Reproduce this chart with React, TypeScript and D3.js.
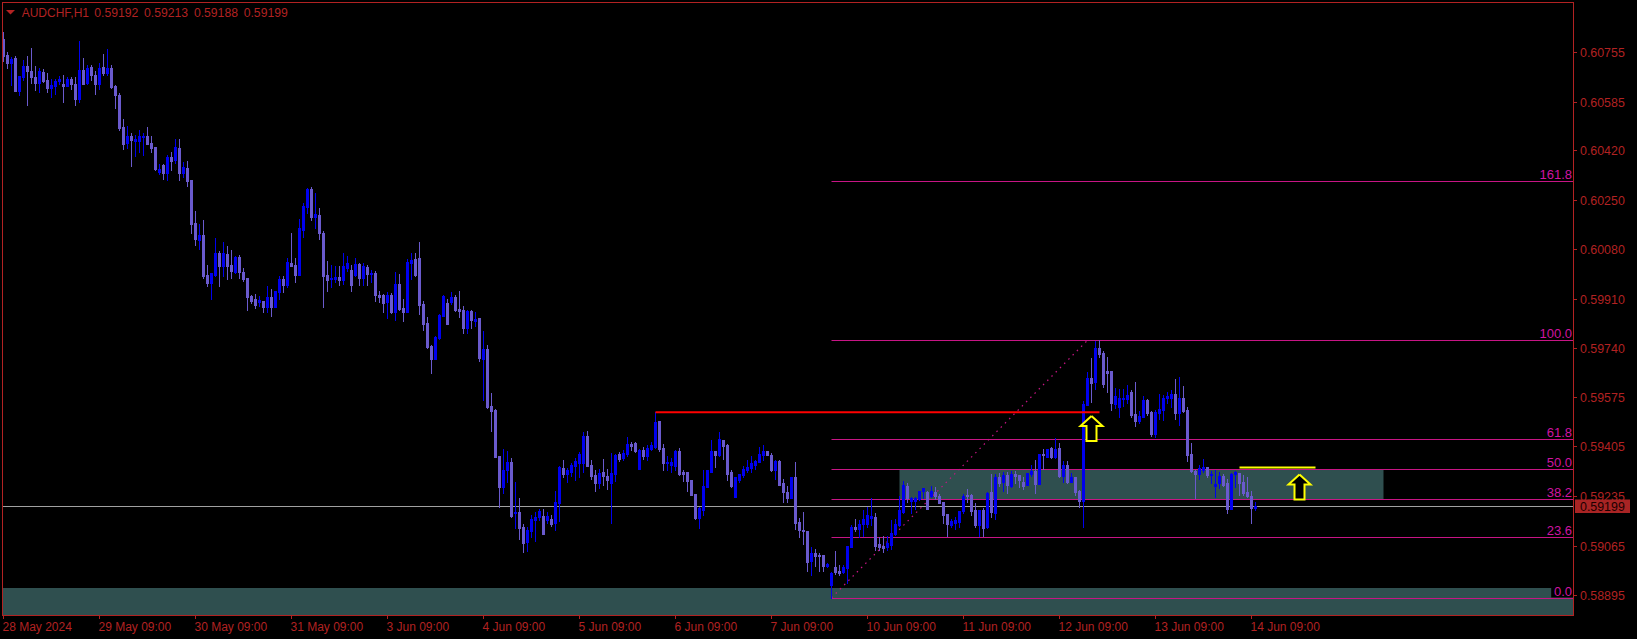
import React from 'react';
import * as d3 from 'd3';

// ---- chart values (prices stored in points, 1 point = 0.00001) ----
const openPts = [
  60800,60746,60718,60735,60622,60671,60707,60691,60670,60650,
  60687,60660,60634,60640,60657,60646,60640,60663,60646,60595,
  60694,60650,60705,60677,60646,60704,60683,60702,60640,60609,
  60499,60443,60469,60451,60451,60466,60469,60443,60430,60344,
  60369,60341,60397,60386,60427,60341,60358,60317,60170,60113,
  60129,59991,59964,59993,60067,60023,60064,60026,60003,60055,
  60002,59983,59920,59909,59899,59903,59882,59917,59882,59935,
  59978,59958,60033,60026,59992,60146,60224,60287,60192,60197,
  60136,59992,59977,59977,59986,59975,60016,60009,59992,60030,
  59982,60019,59995,59999,59923,59923,59899,59923,59865,59961,
  59879,59865,60033,60047,60050,59893,59827,59749,59704,59776,
  59851,59896,59899,59917,59875,59872,59810,59869,59834,59844,
  59704,59738,59543,59530,59372,59266,59324,59351,59177,59180,
  59129,59077,59115,59153,59163,59166,59153,59156,59142,59211,
  59331,59310,59317,59338,59348,59348,59440,59341,59307,59279,
  59317,59303,59279,59310,59379,59365,59379,59413,59416,59327,
  59393,59372,59396,59404,59492,59399,59348,59341,59338,59389,
  59317,59317,59290,59242,59159,59187,59266,59317,59389,59375,
  59427,59410,59317,59231,59290,59307,59324,59331,59341,59351,
  59375,59389,59375,59324,59355,59279,59249,59228,59300,59146,
  59119,59116,59013,59040,59033,59034,58996,58931,58993,58979,
  58976,58989,59061,59130,59123,59139,59139,59161,59164,59071,
  59065,59061,59068,59106,59137,59181,59270,59219,59219,59226,
  59253,59249,59236,59249,59236,59215,59174,59137,59143,59147,
  59182,59239,59239,59188,59137,59188,59130,59249,59178,59301,
  59284,59308,59270,59310,59308,59284,59273,59311,59321,59277,
  59380,59369,59398,59369,59400,59304,59342,59284,59301,59253,
  59219,59548,59639,59626,59742,59726,59664,59664,59551,59541,
  59568,59568,59592,59517,59493,59506,59565,59524,59448,59520,
  59530,59572,59572,59585,59520,59571,59529,59379,59321,59311,
  59325,59334,59308,59270,59279,59304,59279,59191,59309,59314,
  59284,59249,59236,59192,
];
const highPts = [
  60824,60755,60737,60742,60673,60728,60742,60770,60707,60700,
  60697,60684,60662,60662,60673,60677,60669,60669,60671,60794,
  60736,60711,60711,60692,60719,60749,60766,60711,60643,60616,
  60526,60502,60477,60471,60489,60477,60499,60468,60430,60371,
  60373,60402,60413,60458,60458,60379,60382,60317,60211,60167,
  60180,60026,59998,60119,60074,60105,60091,60078,60057,60061,
  60016,59983,59922,59926,59920,59903,59954,59943,59936,59988,
  59988,60051,60136,60050,60183,60239,60290,60293,60273,60221,
  60143,60040,60026,60023,60023,60067,60057,60026,60050,60033,
  60033,60026,60009,60006,59937,59927,59934,59930,60002,59995,
  59910,60047,60067,60067,60105,59903,59848,59752,59783,59858,
  59923,59910,59934,59923,59937,59886,59872,59872,59865,59844,
  59800,59752,59588,59533,59372,59396,59389,59365,59283,59228,
  59139,59129,59170,59180,59190,59190,59180,59170,59252,59338,
  59359,59331,59348,59365,59386,59454,59457,59359,59324,59327,
  59362,59327,59382,59379,59386,59393,59437,59420,59420,59396,
  59403,59410,59420,59523,59492,59413,59372,59365,59393,59399,
  59324,59317,59290,59242,59197,59324,59324,59427,59389,59454,
  59427,59413,59324,59300,59310,59338,59359,59372,59359,59403,
  59410,59389,59382,59359,59359,59293,59269,59300,59351,59160,
  59181,59116,59061,59054,59041,59034,59004,58973,59047,58999,
  58998,59065,59137,59156,59153,59188,59198,59228,59178,59095,
  59099,59099,59154,59157,59236,59287,59280,59232,59232,59253,
  59263,59253,59270,59267,59243,59215,59174,59157,59164,59184,
  59243,59260,59243,59212,59188,59195,59249,59311,59311,59315,
  59318,59318,59321,59321,59308,59301,59314,59342,59359,59380,
  59395,59397,59402,59434,59415,59356,59356,59315,59301,59256,
  59560,59661,59707,59767,59768,59732,59712,59664,59606,59602,
  59602,59616,59598,59626,59527,59578,59568,59527,59530,59585,
  59582,59592,59598,59637,59642,59612,59540,59416,59324,59342,
  59362,59334,59320,59325,59317,59311,59294,59315,59321,59314,
  59308,59301,59253,59213,
];
const lowPts = [
  60726,60702,60643,60622,60609,60660,60574,60649,60624,60617,
  60653,60619,60603,60612,60645,60586,60639,60629,60574,60584,
  60646,60646,60660,60612,60629,60677,60677,60632,60564,60489,
  60424,60428,60366,60400,60414,60403,60441,60413,60352,60339,
  60321,60318,60352,60375,60318,60328,60298,60135,60095,60081,
  59982,59955,59910,59988,59955,59988,59979,59983,59999,59983,
  59972,59872,59896,59879,59886,59865,59865,59852,59882,59910,
  59935,59952,60023,59968,59992,60123,60204,60180,60154,60115,
  59882,59937,59951,59968,59958,59961,60006,59937,59988,59958,
  59958,59958,59968,59903,59899,59865,59845,59862,59838,59872,
  59834,59865,59978,59988,59858,59804,59742,59656,59704,59773,
  59851,59824,59893,59869,59848,59793,59793,59810,59817,59697,
  59564,59536,59458,59368,59197,59245,59283,59163,59125,59088,
  59043,59047,59094,59081,59153,59105,59142,59132,59118,59149,
  59300,59283,59303,59290,59300,59317,59338,59293,59252,59262,
  59272,59259,59142,59286,59355,59359,59372,59393,59386,59327,
  59362,59359,59393,59400,59389,59324,59324,59317,59324,59307,
  59286,59252,59238,59156,59125,59170,59266,59317,59334,59372,
  59362,59290,59266,59231,59283,59300,59317,59317,59327,59351,
  59359,59375,59320,59293,59273,59214,59214,59228,59122,59095,
  59071,58979,58965,58996,58979,58979,58993,58886,58969,58965,
  58970,58938,59061,59116,59095,59099,59130,59136,59051,59051,
  59042,59051,59054,59102,59133,59178,59215,59178,59191,59222,
  59229,59191,59232,59226,59212,59143,59099,59130,59123,59130,
  59178,59215,59171,59130,59099,59099,59126,59164,59157,59270,
  59253,59246,59267,59280,59267,59260,59273,59304,59246,59277,
  59328,59369,59366,59366,59301,59284,59280,59284,59239,59198,
  59130,59548,59558,59602,59712,59609,59592,59530,59537,59506,
  59544,59554,59506,59476,59486,59506,59513,59441,59438,59500,
  59496,59554,59541,59500,59479,59524,59356,59318,59229,59294,
  59318,59301,59280,59232,59263,59270,59178,59191,59265,59239,
  59239,59232,59143,59188,
];
const closePts = [
  60743,60719,60732,60622,60673,60707,60691,60671,60650,60691,
  60657,60634,60643,60657,60662,60640,60663,60646,60595,60694,
  60646,60702,60677,60646,60702,60683,60702,60635,60609,60494,
  60441,60469,60454,60457,60469,60469,60441,60428,60355,60355,
  60341,60397,60383,60430,60341,60362,60314,60168,60115,60129,
  59988,59964,59998,60067,60023,60066,60023,60007,60053,60003,
  59979,59918,59904,59889,59906,59882,59917,59882,59936,59978,
  59958,60036,60023,59992,60153,60228,60287,60192,60201,60136,
  59989,59976,59980,59984,59975,60023,60033,59958,60030,59982,
  60023,59995,59999,59923,59917,59896,59923,59865,59961,59875,
  59865,60036,60043,59992,59889,59824,59745,59704,59779,59855,
  59920,59824,59917,59872,59869,59810,59869,59838,59841,59708,
  59738,59540,59526,59368,59266,59324,59351,59166,59180,59125,
  59074,59118,59156,59163,59183,59105,59166,59139,59214,59334,
  59310,59324,59341,59355,59379,59440,59338,59303,59279,59314,
  59303,59290,59314,59375,59362,59382,59413,59406,59389,59393,
  59372,59399,59410,59489,59396,59348,59351,59351,59389,59310,
  59310,59286,59238,59159,59194,59269,59324,59389,59375,59430,
  59406,59310,59269,59300,59310,59327,59334,59348,59355,59379,
  59389,59375,59324,59355,59273,59249,59228,59300,59142,59118,
  59116,59010,59040,59030,59028,58996,59001,58971,58976,58972,
  58993,59065,59130,59122,59140,59156,59170,59167,59065,59061,
  59058,59075,59109,59140,59188,59274,59229,59229,59229,59252,
  59263,59191,59252,59236,59212,59171,59140,59150,59154,59184,
  59236,59236,59184,59137,59188,59126,59246,59181,59301,59280,
  59308,59273,59311,59304,59291,59270,59314,59321,59277,59380,
  59374,59397,59369,59397,59304,59342,59284,59301,59250,59219,
  59551,59639,59623,59742,59722,59620,59657,59554,59578,59572,
  59572,59582,59513,59493,59510,59565,59520,59448,59524,59534,
  59572,59576,59585,59520,59571,59527,59376,59321,59311,59332,
  59334,59308,59311,59277,59304,59274,59191,59311,59318,59280,
  59245,59236,59193,59199,
];

const opens = openPts.map((v) => v / 1e5);
const highs = highPts.map((v) => v / 1e5);
const lows = lowPts.map((v) => v / 1e5);
const closes = closePts.map((v) => v / 1e5);

const symbolTitle = 'AUDCHF,H1';
const titleValues = ['0.59192', '0.59213', '0.59188', '0.59199'];

const priceTicks = [0.60755, 0.60585, 0.6042, 0.6025, 0.6008, 0.5991, 0.5974, 0.59575, 0.59405, 0.59235, 0.59065, 0.58895];
const timeTickBars = [0, 24, 48, 72, 96, 120, 144, 168, 192, 216, 240, 264, 288, 312];
const timeTickLabels = [
  '28 May 2024', '29 May 09:00', '30 May 09:00', '31 May 09:00', '3 Jun 09:00', '4 Jun 09:00',
  '5 Jun 09:00', '6 Jun 09:00', '7 Jun 09:00', '10 Jun 09:00', '11 Jun 09:00', '12 Jun 09:00',
  '13 Jun 09:00', '14 Jun 09:00',
];

const currentPrice = 0.59199;

const fibLevels = [0, 23.6, 38.2, 50, 61.8, 100, 161.8];
const fibLow = 0.58886;
const fibHigh = 0.59768;
const fibStartBar = 207;
const fibEndBar = 271;

const redLinePrice = 0.59522;
const redLineBars = [163, 274];
const yellowLinePrice = 0.59332;
const yellowLineBars = [309, 328];

const zoneBars = [[224, 345], [-5, 400]];
const zoneTops = [0.59327, 0.5892];
const zoneBottoms = [0.59225, 0.587];

const arrowBars = [272, 324];
const arrowPrices = [0.59509, 0.59308];

// ---- layout ----
const W = 1637;
const H = 639;
const L = 2;
const T = 2;
const R = 1573;
const B = 615;

const FONT = '"Liberation Sans", Arial, sans-serif';
const AXIS = '#B22222';
const BULL = '#0000EE';
const BEAR = '#6A5ACD';
const FIB = '#C71585';
const FIB_TEXT = '#D014A0';

const x = d3.scaleLinear().domain([-0.375, 392.375]).range([L, R]);
const y = d3.scaleLinear().domain([0.58827, 0.60927]).range([B, T]);

const fibPrice = (lv: number) => fibLow + ((fibHigh - fibLow) * lv) / 100;

export default function App() {
  const py = (p: number) => Math.round(y(p)) + 0.5;
  const arrowPath = d3.line()([
    [0, 0], [11, 10], [5, 10], [5, 25], [-5, 25], [-5, 10], [-11, 10], [0, 0],
  ] as [number, number][]);

  return (
    <svg
      width={W}
      height={H}
      style={{ position: 'absolute', left: 0, top: 0, display: 'block', background: '#000' }}
      fontFamily={FONT}
    >
      <defs>
        <clipPath id="plot">
          <rect x={L} y={T} width={R - L} height={B - T} />
        </clipPath>
      </defs>
      <rect x={0} y={0} width={W} height={H} fill="#000" />

      <g clipPath="url(#plot)">
        {zoneBars.map((b, k) => (
          <rect
            key={'z' + k}
            x={x(b[0])}
            y={Math.round(y(zoneTops[k]))}
            width={x(b[1]) - x(b[0])}
            height={Math.round(y(zoneBottoms[k])) - Math.round(y(zoneTops[k]))}
            fill="#2F4F4F"
          />
        ))}

        {/* current bid line */}
        <line x1={L} x2={R} y1={py(currentPrice)} y2={py(currentPrice)} stroke="#A0A0A0" strokeWidth={1} />

        {/* fibonacci */}
        {fibLevels.map((lv) => {
          const yy = py(fibPrice(lv));
          return (
            <line key={'f' + lv} x1={x(fibStartBar)} x2={R} y1={yy} y2={yy} stroke={FIB} strokeWidth={1} />
          );
        })}
        <line
          x1={x(fibStartBar)}
          y1={y(fibLow)}
          x2={x(fibEndBar)}
          y2={y(fibHigh)}
          stroke={FIB}
          strokeWidth={1.2}
          strokeDasharray="1.5,4.5"
        />

        {/* candles */}
        {closes.map((c, i) => {
          const o = opens[i];
          const bull = c >= o;
          const col = bull ? BULL : BEAR;
          const cx = x(i);
          const top = Math.round(y(Math.max(o, c)));
          const bot = Math.round(y(Math.min(o, c)));
          const hi = Math.round(y(Math.max(highs[i], o, c)));
          const lo = Math.round(y(Math.min(lows[i], o, c)));
          return (
            <g key={'c' + i} fill={col}>
              <rect x={cx - 0.5} y={hi} width={1} height={Math.max(1, lo - hi + 1)} />
              <rect x={cx - 1.5} y={top} width={3} height={Math.max(1, bot - top + 1)} />
            </g>
          );
        })}

        {/* fib labels */}
        {fibLevels.map((lv) => {
          const yy = Math.round(y(fibPrice(lv)));
          const txt = lv.toFixed(1);
          const tw = txt.length * 6.6;
          return (
            <g key={'fl' + lv}>
              <rect x={R - tw - 2} y={yy - 10} width={tw + 2} height={9.5} fill="#000" />
              <text x={R - 1} y={yy - 2} fontSize={13} fill={FIB_TEXT} textAnchor="end">
                {txt}
              </text>
            </g>
          );
        })}

        {/* red resistance line */}
        <line
          x1={x(redLineBars[0])}
          x2={x(redLineBars[1])}
          y1={y(redLinePrice)}
          y2={y(redLinePrice)}
          stroke="#FF0000"
          strokeWidth={2}
        />
        {/* yellow line */}
        <line
          x1={x(yellowLineBars[0])}
          x2={x(yellowLineBars[1])}
          y1={y(yellowLinePrice)}
          y2={y(yellowLinePrice)}
          stroke="#FFFF00"
          strokeWidth={2}
        />
        {/* arrows */}
        {arrowBars.map((b, k) => (
          <path
            key={'a' + k}
            d={arrowPath || ''}
            transform={`translate(${x(b)},${y(arrowPrices[k])})`}
            fill="#000"
            stroke="#FFFF00"
            strokeWidth={2}
            strokeLinejoin="miter"
          />
        ))}
      </g>

      {/* frame */}
      <rect x={L + 0.5} y={T + 0.5} width={R - L} height={B - T} fill="none" stroke={AXIS} strokeWidth={1} />

      {/* price axis */}
      {priceTicks.map((p) => {
        const yy = py(p);
        return (
          <g key={'p' + p}>
            <line x1={R} x2={R + 4} y1={yy} y2={yy} stroke={AXIS} />
            <text x={1580} y={yy + 4.5} fontSize={12.4} fill={AXIS}>
              {p.toFixed(5)}
            </text>
          </g>
        );
      })}
      <rect x={1575} y={Math.round(y(currentPrice)) - 6.5} width={55} height={13.5} fill="#A82424" />
      <text x={1580} y={Math.round(y(currentPrice)) + 5} fontSize={12.4} fill="#1A0000">
        {currentPrice.toFixed(5)}
      </text>

      {/* time axis */}
      {timeTickBars.map((b, k) => (
        <g key={'t' + b}>
          <line x1={x(b)} x2={x(b)} y1={B} y2={B + 4} stroke={AXIS} />
          <text x={x(b) - 1} y={630.5} fontSize={12} fill={AXIS}>
            {timeTickLabels[k]}
          </text>
        </g>
      ))}

      {/* title */}
      <polygon points="6,10 15,10 10.5,14.5" fill={AXIS} />
      <text x={21.7} y={17} fontSize={12} fill={AXIS}>
        {symbolTitle}
      </text>
      {titleValues.map((v, k) => (
        <text key={'tv' + k} x={94.3 + k * 49.8} y={17} fontSize={12.2} fill={AXIS}>
          {v}
        </text>
      ))}
    </svg>
  );
}
